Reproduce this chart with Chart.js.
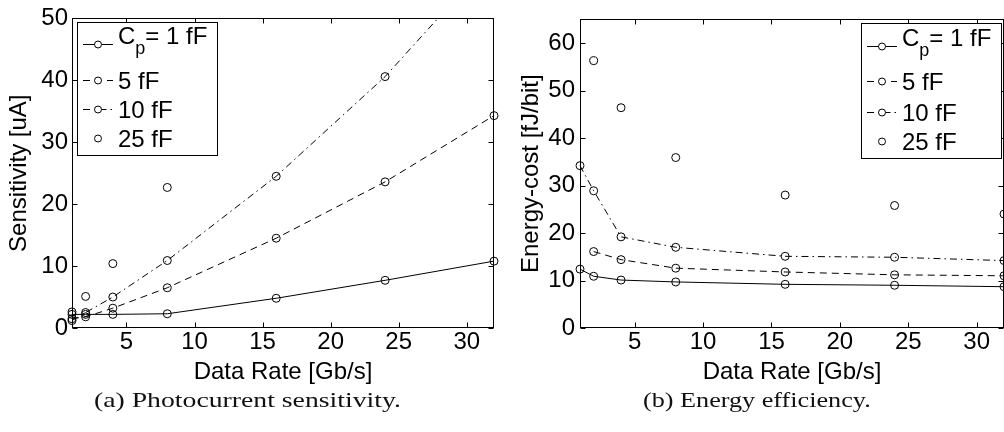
<!DOCTYPE html>
<html><head><meta charset="utf-8">
<script src="https://cdn.jsdelivr.net/npm/chart.js@4.4.1/dist/chart.umd.min.js"></script>
<style>
html,body{margin:0;padding:0;background:#fff;overflow:hidden;width:1004px;height:432px;position:relative;}
#c1{position:absolute;left:0;top:0;}
#c2{position:absolute;left:505px;top:0;}
.cap{position:absolute;font-family:"Liberation Serif",serif;font-size:22px;line-height:22px;color:#111;white-space:nowrap;transform-origin:0 0;}
</style></head><body>
<canvas id="c1" width="500" height="390"></canvas>
<canvas id="c2" width="510" height="390"></canvas>
<div class="cap" id="capA" style="left:248px;top:389px">(a) Photocurrent sensitivity.</div>
<div class="cap" id="capB" style="left:757px;top:389px">(b) Energy efficiency.</div>
<script>
// ---- data ----
const dataRates = [1, 2, 4, 8, 16, 24, 32];
const xTickValues = [5, 10, 15, 20, 25, 30];
const seriesLabels = ['C_p= 1 fF', '5 fF', '10 fF', '25 fF'];

const sens1  = [2.2, 2.2, 2.2, 2.3, 4.8, 7.7, 10.8];
const sens5  = [1.5, 1.8, 3.2, 6.5, 14.5, 23.6, 34.3];
const sens10 = [1.2, 2.5, 5.0, 10.9, 24.5, 40.6, 60.0];
const sens25 = [2.6, 5.1, 10.4, 22.7, null, null, null];
const yTicksSens = [0, 10, 20, 30, 40, 50];

const energy1  = [12.4, 10.9, 10.1, 9.7, 9.2, 9.0, 8.7];
const energy5  = [null, 16.1, 14.4, 12.6, 11.8, 11.2, 11.0];
const energy10 = [34.2, 28.9, 19.2, 17.0, 15.1, 14.9, 14.2];
const energy25 = [null, 56.3, 46.4, 35.9, 28.0, 25.8, 24.0];
const yTicksEnergy = [0, 10, 20, 30, 40, 50, 60];

// ---- styles ----
const FAMILY = "'Liberation Sans', Arial, sans-serif";
const dashes = [[], [7, 5], [7, 4, 1.5, 4], []];

[['capA', 1.26], ['capB', 1.19]].forEach(([id, sc]) => {
  const el = document.getElementById(id);
  const w = el.offsetWidth;
  el.style.transform = 'scaleX(' + sc + ')';
  el.style.left = (parseFloat(el.style.left) - w * sc / 2) + 'px';
});

const frame = {
  id: 'frame',
  afterDatasetsDraw(chart) {
    const {ctx, chartArea: a, scales: {x, y}} = chart;
    ctx.save();
    ctx.strokeStyle = '#000';
    ctx.lineWidth = 1;
    const L = Math.round(a.left) + 0.5, R = Math.round(a.right) - 0.5;
    const T = Math.round(a.top) + 0.5, B = Math.round(a.bottom) - 0.5;
    ctx.strokeRect(L, T, R - L, B - T);
    const len = 5;
    ctx.beginPath();
    x.ticks.forEach(t => {
      const px = Math.round(x.getPixelForValue(t.value)) + 0.5;
      ctx.moveTo(px, B); ctx.lineTo(px, B - len);
      ctx.moveTo(px, T); ctx.lineTo(px, T + len);
    });
    y.ticks.forEach(t => {
      const py = Math.round(y.getPixelForValue(t.value)) + 0.5;
      ctx.moveTo(L, py); ctx.lineTo(L + len, py);
      ctx.moveTo(R, py); ctx.lineTo(R - len, py);
    });
    ctx.stroke();
    ctx.restore();
  }
};

const insetLegend = {
  id: 'insetLegend',
  afterDraw(chart, args, o) {
    const {ctx, chartArea: a} = chart;
    const bx = Math.round(o.align === 'right' ? a.right - o.offsetX - o.width : a.left + o.offsetX);
    const by = Math.round(a.top + o.offsetY);
    ctx.save();
    ctx.fillStyle = '#fff';
    ctx.fillRect(bx, by, o.width, o.height);
    ctx.strokeStyle = '#000';
    ctx.lineWidth = 1;
    ctx.setLineDash([]);
    ctx.strokeRect(bx + 0.5, by + 0.5, o.width, o.height);
    chart.data.datasets.forEach((ds, i) => {
      const ry = by + o.rows[i] + 0.5;
      ctx.strokeStyle = '#000';
      ctx.lineWidth = 1;
      if (ds.showLine !== false) {
        ctx.setLineDash(ds.borderDash || []);
        ctx.beginPath();
        ctx.moveTo(bx + 6, ry); ctx.lineTo(bx + 36, ry);
        ctx.stroke();
      }
      ctx.setLineDash([]);
      ctx.beginPath();
      ctx.arc(bx + 21, ry, 3.5, 0, Math.PI * 2);
      ctx.fillStyle = '#fff';
      ctx.fill();
      ctx.stroke();
      ctx.fillStyle = '#000';
      ctx.textBaseline = 'alphabetic';
      ctx.textAlign = 'left';
      const label = ds.label;
      let tx = bx + 41;
      const m = label.match(/^(.*?)_(.)(.*)$/);
      if (m) {
        ctx.font = '24px ' + FAMILY;
        ctx.fillText(m[1], tx, ry - 1);
        tx += ctx.measureText(m[1]).width;
        ctx.font = '18px ' + FAMILY;
        ctx.fillText(m[2], tx, ry + 9);
        tx += ctx.measureText(m[2]).width;
        ctx.font = '24px ' + FAMILY;
        ctx.fillText(m[3], tx, ry - 1);
      } else {
        ctx.font = '24px ' + FAMILY;
        ctx.fillText(label, tx, ry + 8);
      }
    });
    ctx.restore();
  }
};

function makeChart(id, series, yMax, yTicks, yTitle, cfg) {
  return new Chart(document.getElementById(id), {
    type: 'line',
    data: {
      datasets: series.map((s, i) => ({
        label: seriesLabels[i],
        data: dataRates.map((x, j) => ({x: x, y: s[j]})),
        borderColor: '#000',
        borderWidth: 1,
        borderDash: dashes[i],
        showLine: i < 3,
        pointRadius: 4,
        pointStyle: 'circle',
        pointBackgroundColor: 'rgba(255,255,255,0)',
        pointBorderColor: '#000',
        pointBorderWidth: 1,
        tension: 0,
        fill: false,
        spanGaps: false,
        clip: {left: false, right: false, top: 0, bottom: false}
      }))
    },
    options: {
      responsive: false,
      animation: false,
      devicePixelRatio: 1,
      events: [],
      layout: {padding: {top: 13, right: cfg.padRight, left: 0, bottom: 0}},
      plugins: {
        legend: {display: false},
        tooltip: {enabled: false},
        insetLegend: cfg.legend
      },
      scales: {
        x: {
          type: 'linear', min: 1, max: 32,
          grid: {display: false, drawTicks: false}, border: {display: false},
          afterBuildTicks: s => { s.ticks = xTickValues.map(v => ({value: v})); },
          afterFit: s => { s.height = 62; },
          ticks: {color: '#000', font: {family: FAMILY, size: 24}, padding: 0, maxRotation: 0, autoSkip: false},
          title: {display: true, text: 'Data Rate [Gb/s]', color: '#000', font: {family: FAMILY, size: 24}, padding: {top: 0, bottom: 3}}
        },
        y: {
          type: 'linear', min: 0, max: yMax,
          grid: {display: false, drawTicks: false}, border: {display: false},
          afterBuildTicks: s => { s.ticks = yTicks.map(v => ({value: v})); },
          afterFit: s => { s.width = cfg.yWidth; },
          ticks: {color: '#000', font: {family: FAMILY, size: 24}, padding: cfg.yTickPad, autoSkip: false},
          title: {display: true, text: yTitle, color: '#000', font: {family: FAMILY, size: 24}, padding: {top: cfg.yTitlePad, bottom: 0}}
        }
      }
    },
    plugins: [frame, insetLegend]
  });
}

makeChart('c1', [sens1, sens5, sens10, sens25], 50, yTicksSens, 'Sensitivity [uA]', {
  padRight: 6, yWidth: 72, yTickPad: 4, yTitlePad: 5,
  legend: {align: 'left', offsetX: 5, offsetY: 4, width: 140, height: 133, rows: [22, 58, 87, 116]}
});
makeChart('c2', [energy1, energy5, energy10, energy25], 65, yTicksEnergy, 'Energy-cost [fJ/bit]', {
  padRight: 11, yWidth: 75, yTickPad: 5, yTitlePad: 12,
  legend: {align: 'right', offsetX: 3, offsetY: 4, width: 140, height: 135, rows: [23, 58, 89, 118]}
});
</script>
</body></html>
